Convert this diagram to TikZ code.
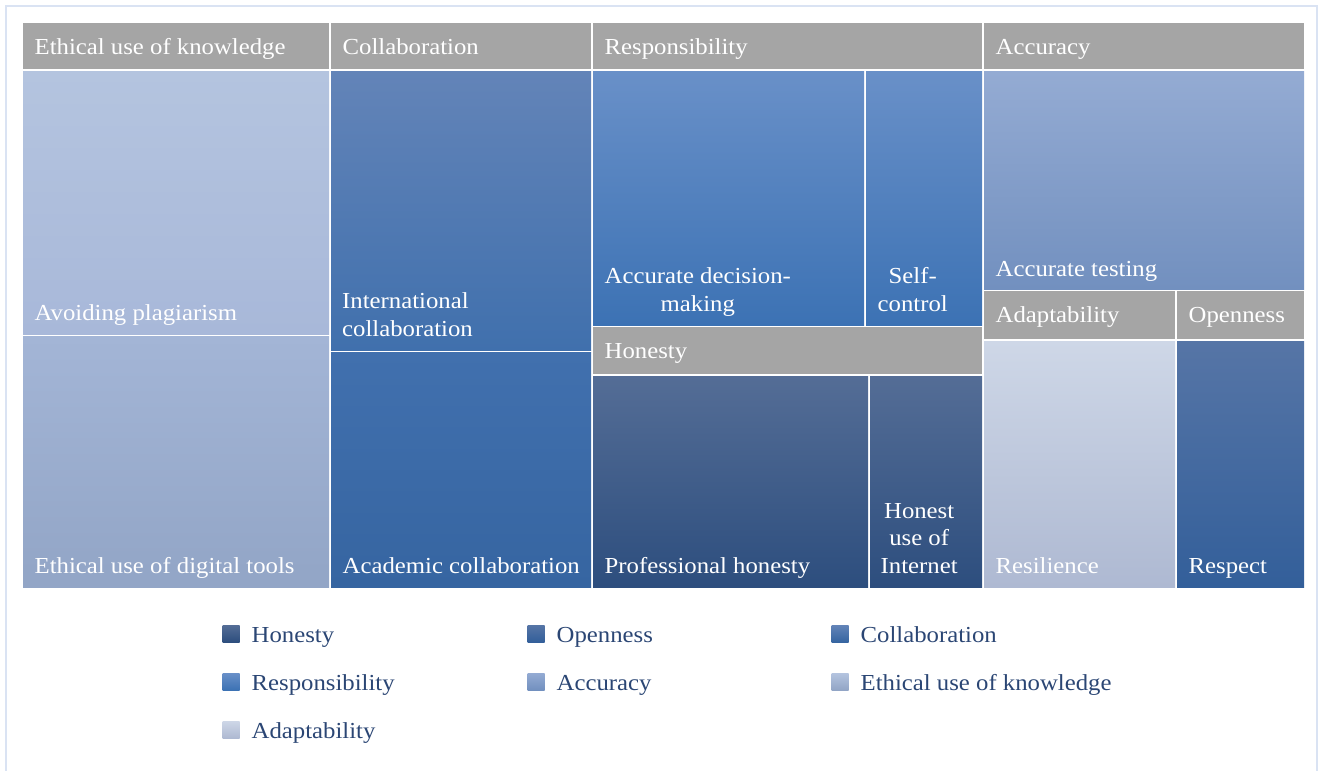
\documentclass[tikz,border=0pt]{standalone}
\usepackage{fontspec}
\setmainfont[FakeStretch=1.08]{Liberation Serif}
\usetikzlibrary{positioning}
\definecolor{hdrgray}{HTML}{A5A5A5}
\definecolor{framecol}{HTML}{DAE3F3}
\definecolor{keyblue}{HTML}{2B4674}
\definecolor{ethA}{HTML}{B4C4DF}
\definecolor{ethB}{HTML}{A8B8D9}
\definecolor{ethC}{HTML}{A3B5D6}
\definecolor{ethD}{HTML}{92A5C6}
\definecolor{colA}{HTML}{6384B8}
\definecolor{colB}{HTML}{4070AD}
\definecolor{colC}{HTML}{4170AE}
\definecolor{colD}{HTML}{3665A1}
\definecolor{resA}{HTML}{6990C8}
\definecolor{resB}{HTML}{3C72B4}
\definecolor{honA}{HTML}{546D96}
\definecolor{honB}{HTML}{2D4E7E}
\definecolor{accA}{HTML}{94ABD3}
\definecolor{accB}{HTML}{7290BF}
\definecolor{adaA}{HTML}{CED7E7}
\definecolor{adaB}{HTML}{AEB9D2}
\definecolor{opeA}{HTML}{5675A6}
\definecolor{opeB}{HTML}{335F9A}
\tikzset{
lbl/.style={text=white, font=\fontsize{23}{28}\selectfont, inner sep=0pt, anchor=south west, align=center, execute at end node=\strut},
key/.style={minimum size=17bp, inner sep=0pt, outer sep=0pt},
keytext/.style={text=keyblue, font=\fontsize{23}{28}\selectfont, inner sep=0pt}
}
\def\drawTile#1#2#3#4#5#6{
\shade[top color=#5, bottom color=#6] (#1+1,#2+1) rectangle (#3-1,#4-1);
}
\def\drawHeader#1#2#3#4{
\fill[hdrgray] (#1+1,#2+1) rectangle (#3-1,#4-1);
}
\begin{document}
\begin{tikzpicture}[x=1bp, y=-1bp]
	\useasboundingbox (0,0) rectangle (1322,770);
	\draw[framecol, line width=1.2bp] (6,780) -- (6,6) -- (1317,6) -- (1317,780);
	\drawHeader{22}{22}{330}{70}
	\drawHeader{330}{22}{592}{70}
	\drawHeader{592}{22}{983}{70}
	\drawHeader{983}{22}{1305}{70}
	\drawHeader{592}{326}{983}{375}
	\drawHeader{983}{290}{1176}{340}
	\drawHeader{1176}{290}{1305}{340}
	\drawTile{22}{70}{330}{335}{ethA}{ethB}
	\drawTile{22}{335}{330}{588}{ethC}{ethD}
	\drawTile{330}{70}{592}{351}{colA}{colB}
	\drawTile{330}{351}{592}{588}{colC}{colD}
	\drawTile{592}{70}{865}{326}{resA}{resB}
	\drawTile{865}{70}{983}{326}{resA}{resB}
	\drawTile{592}{375}{869}{588}{honA}{honB}
	\drawTile{869}{375}{983}{588}{honA}{honB}
	\drawTile{983}{70}{1305}{290}{accA}{accB}
	\drawTile{983}{340}{1176}{588}{adaA}{adaB}
	\drawTile{1176}{340}{1305}{588}{opeA}{opeB}
	\node[lbl] (hEth) at (34.5,63.4) {Ethical use of knowledge};
	\node[lbl] (hCol) at (342.5,63.4) {Collaboration};
	\node[lbl] (hRes) at (604.5,63.4) {Responsibility};
	\node[lbl] (hAcc) at (995.5,63.4) {Accuracy};
	\node[lbl] (hHon) at (604.5,367.4) {Honesty};
	\node[lbl] (hAda) at (995.5,331.4) {Adaptability};
	\node[lbl] (hOpe) at (1188.5,331.4) {Openness};
	\node[lbl] (avoid) at (34.5,329.4) {Avoiding plagiarism};
	\node[lbl] (digital) at (34.5,582.4) {Ethical use of digital tools};
	\node[lbl, align=left] (intl) at (342,345.4) {International\\collaboration};
	\node[lbl] (acad) at (342.5,582.4) {Academic collaboration};
	\node[lbl] (decision) at (604.5,320.4) {Accurate decision-\\making};
	\node[lbl] (self) at (877.5,320.4) {Self-\\control};
	\node[lbl] (prof) at (604.5,582.4) {Professional honesty};
	\node[lbl] (internet) at (880.5,582.4) {Honest\\use of\\Internet};
	\node[lbl] (testing) at (995.5,285.4) {Accurate testing};
	\node[lbl] (resil) at (995.5,582.4) {Resilience};
	\node[lbl] (respect) at (1188.5,582.4) {Respect};
	\node[key, top color=honA, bottom color=honB] (kHon) at (231,633.5) {};
	\node[keytext, right=12bp of kHon.south east, anchor=base west] (tHon) {Honesty};
	\node[key, top color=opeA, bottom color=opeB] (kOpe) at (536,633.5) {};
	\node[keytext, right=12bp of kOpe.south east, anchor=base west] (tOpe) {Openness};
	\node[key, top color=colA, bottom color=colD] (kCol) at (840,633.5) {};
	\node[keytext, right=12bp of kCol.south east, anchor=base west] (tCol) {Collaboration};
	\node[key, top color=resA, bottom color=resB] (kRes) at (231,681.5) {};
	\node[keytext, right=12bp of kRes.south east, anchor=base west] (tRes) {Responsibility};
	\node[key, top color=accA, bottom color=accB] (kAcc) at (536,681.5) {};
	\node[keytext, right=12bp of kAcc.south east, anchor=base west] (tAcc) {Accuracy};
	\node[key, top color=ethA, bottom color=ethD] (kEth) at (840,681.5) {};
	\node[keytext, right=12bp of kEth.south east, anchor=base west] (tEth) {Ethical use of knowledge};
	\node[key, top color=adaA, bottom color=adaB] (kAda) at (231,729.5) {};
	\node[keytext, right=12bp of kAda.south east, anchor=base west] (tAda) {Adaptability};
\end{tikzpicture}
\end{document}
